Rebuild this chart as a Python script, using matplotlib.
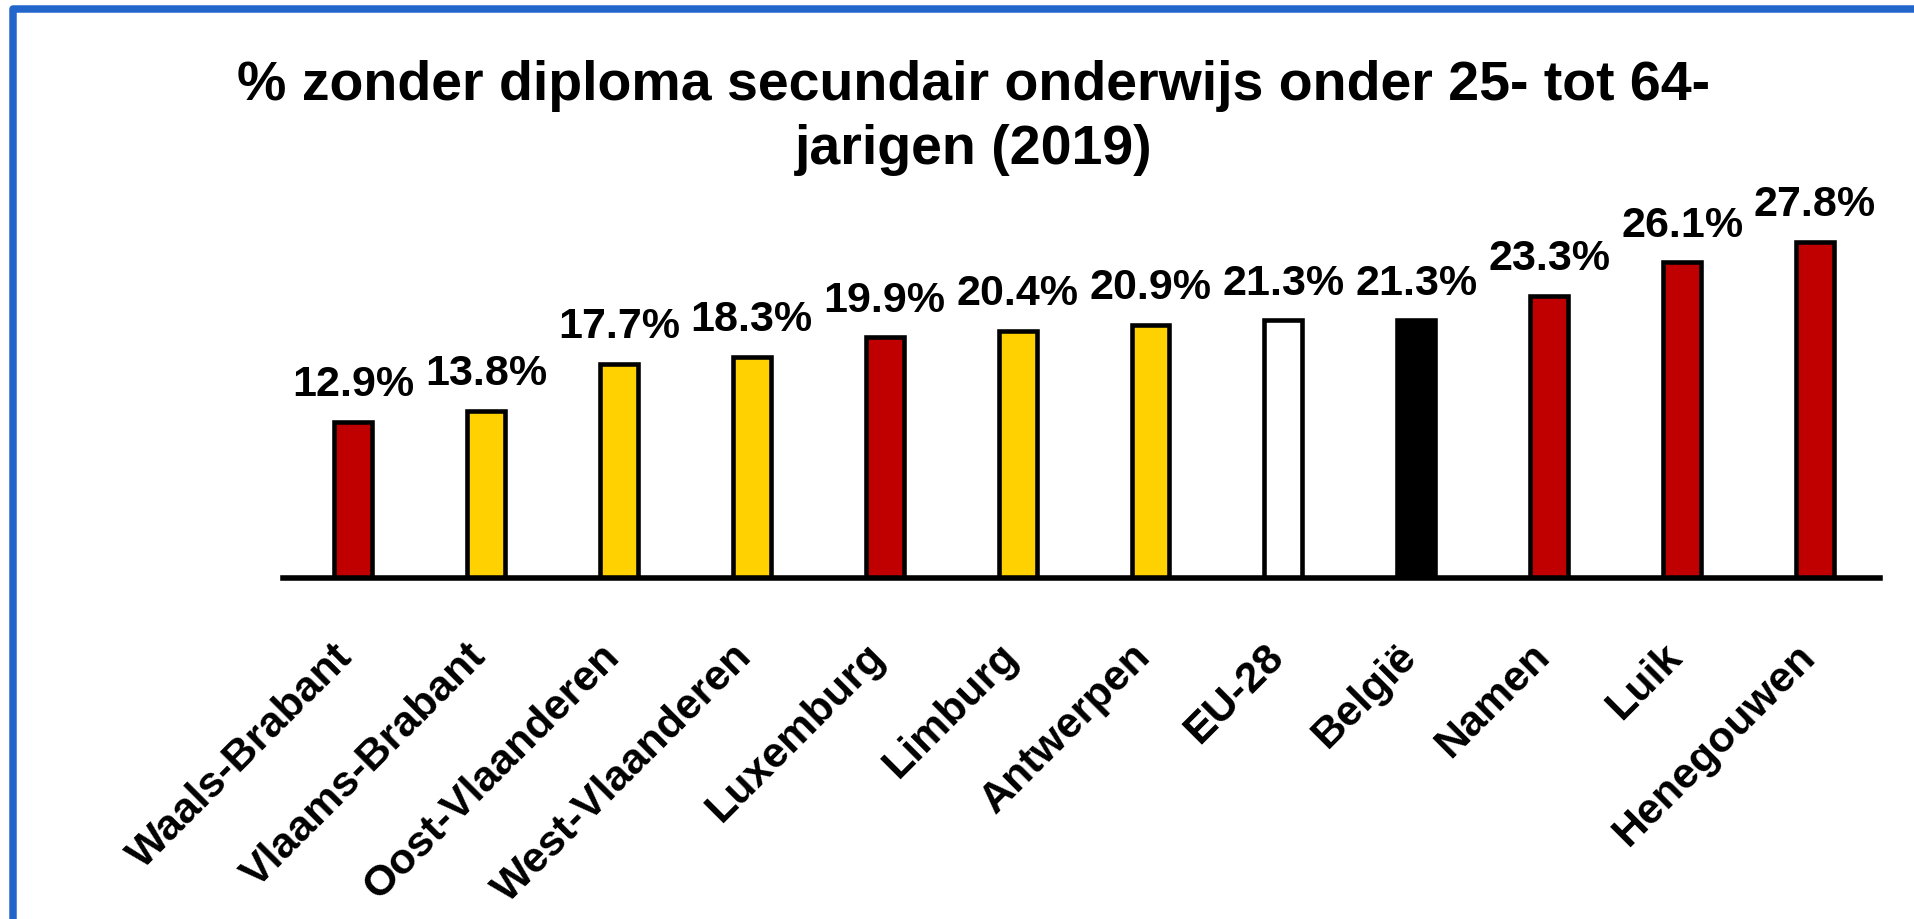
import matplotlib.pyplot as plt
from matplotlib.lines import Line2D
from matplotlib.transforms import ScaledTranslation

# data
regions = ["Waals-Brabant", "Vlaams-Brabant", "Oost-Vlaanderen", "West-Vlaanderen",
           "Luxemburg", "Limburg", "Antwerpen", "EU-28", "België", "Namen", "Luik",
           "Henegouwen"]
pct = [12.9, 13.8, 17.7, 18.3, 19.9, 20.4, 20.9, 21.3, 21.3, 23.3, 26.1, 27.8]
group = ["W", "V", "V", "V", "W", "V", "V", "EU", "BE", "W", "W", "W"]

colors = {"W": "#C00000", "V": "#FFD100", "EU": "#FFFFFF", "BE": "#000000"}
title = "% zonder diploma secundair onderwijs onder 25- tot 64-\njarigen (2019)"

plt.rcParams['font.family'] = ['Liberation Sans', 'DejaVu Sans']
plt.rcParams['font.weight'] = 'bold'

W, H, DPI = 1915, 919, 100
fig = plt.figure(figsize=(W / DPI, H / DPI), dpi=DPI)
ax = fig.add_axes([283 / W, 1 - 578 / H, (1880 - 283) / W, (578 - 215) / H])

x = list(range(len(regions)))
bars = ax.bar(x, pct, width=0.285, color=[colors[g] for g in group],
              edgecolor="black", linewidth=3.3, zorder=2)

for xi, v in zip(x, pct):
    ax.annotate(f"{v:.1f}%", (xi, v), xytext=(0, 12), textcoords="offset points",
                ha="center", va="bottom", fontsize=31, fontweight="bold")

ax.set_xlim(-0.527, len(regions) - 1 + 0.489)
ax.set_ylim(0, 30)
ax.set_yticks([])
for s in ["left", "right", "top"]:
    ax.spines[s].set_visible(False)
ax.spines["bottom"].set_linewidth(4)
ax.spines["bottom"].set_zorder(3)

ax.set_xticks(x)
ax.set_xticklabels(regions, rotation=45, ha="right", va="top",
                   fontsize=31, fontweight="bold")
ax.tick_params(axis="x", length=0, pad=42)
for lbl in ax.get_xticklabels():
    lbl.set_transform(lbl.get_transform() + ScaledTranslation(8 / DPI, 0, fig.dpi_scale_trans))

fig.text(974 / W, 1 - 60 / H, title, ha="center", va="top",
         fontsize=40, fontweight="bold", linespacing=1.3)

# blue frame (left and top edges only are visible)
frame = Line2D([13 / W, 13 / W, 1.02], [-0.02, 1 - 9 / H, 1 - 9 / H],
               transform=fig.transFigure, color="#2266CC", linewidth=5.4,
               solid_joinstyle="round")
fig.add_artist(frame)

fig.savefig("out.png", dpi=DPI, facecolor="white")
